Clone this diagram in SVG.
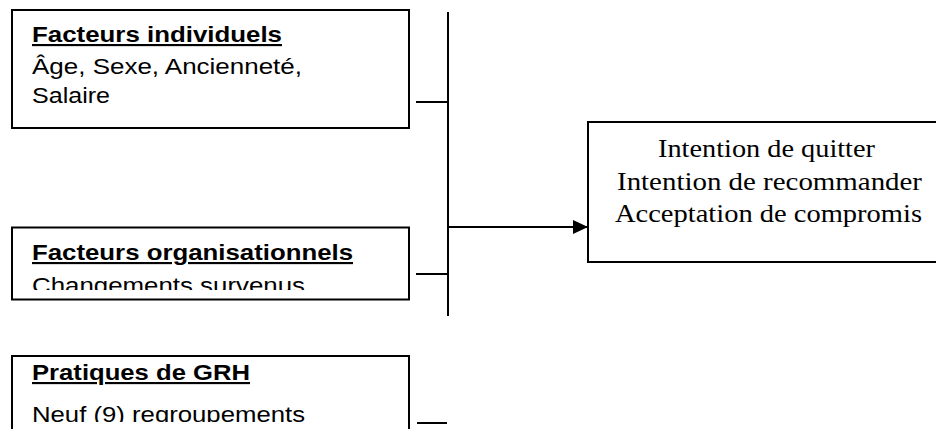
<svg xmlns="http://www.w3.org/2000/svg" width="936" height="429" viewBox="0 0 936 429">
<style>
.box{fill:#fff;stroke:#000;stroke-width:2}
.ln{stroke:#000;stroke-width:2;fill:none}
.t{font-family:"Liberation Sans",Arial,sans-serif;font-size:21.5px;fill:#000}
.h{font-weight:bold;text-decoration:underline;text-decoration-thickness:2px}
.s{font-family:"Liberation Serif","Times New Roman",serif;font-size:24.5px;fill:#000}
</style>
<defs>
<marker id="ah" markerWidth="15" markerHeight="14" refX="15" refY="7" orient="auto" markerUnits="userSpaceOnUse">
<path d="M0,0 L15,7 L0,14 Z" fill="#000"/>
</marker>
<clipPath id="c2"><rect x="12" y="228" width="397" height="62"/></clipPath>
<clipPath id="c3"><rect x="12" y="357" width="397" height="65"/></clipPath>
</defs>
<g id="connectors">
<line class="ln" x1="448" y1="12" x2="448" y2="316"/>
<line class="ln" x1="416" y1="102" x2="448" y2="102"/>
<line class="ln" x1="416" y1="274" x2="448" y2="274"/>
<line class="ln" x1="417" y1="423" x2="447" y2="423"/>
<line class="ln" x1="448" y1="227" x2="588" y2="227" marker-end="url(#ah)"/>
</g>
<g id="n1">
<rect class="box" x="12" y="10" width="397" height="118"/>
<text class="t h" x="32" y="42" textLength="250" lengthAdjust="spacingAndGlyphs">Facteurs individuels</text>
<text class="t" x="32" y="74" textLength="270" lengthAdjust="spacingAndGlyphs">Âge, Sexe, Ancienneté,</text>
<text class="t" x="32" y="103" textLength="78" lengthAdjust="spacingAndGlyphs">Salaire</text>
</g>
<g id="n2">
<rect class="box" x="12" y="227.5" width="397" height="72"/>
<g clip-path="url(#c2)">
<text class="t h" x="32" y="260" textLength="321" lengthAdjust="spacingAndGlyphs">Facteurs organisationnels</text>
<text class="t" x="32" y="293" textLength="273" lengthAdjust="spacingAndGlyphs">Changements survenus</text>
</g>
</g>
<g id="n3">
<rect class="box" x="12" y="356" width="397" height="90"/>
<g clip-path="url(#c3)">
<text class="t h" x="32" y="380" textLength="218" lengthAdjust="spacingAndGlyphs">Pratiques de GRH</text>
<text class="t" x="32" y="422" textLength="273" lengthAdjust="spacingAndGlyphs">Neuf (9) regroupements</text>
</g>
</g>
<g id="n4">
<rect class="box" x="588" y="122" width="360" height="140"/>
<text class="s" x="658" y="157" textLength="217" lengthAdjust="spacingAndGlyphs">Intention de quitter</text>
<text class="s" x="617" y="190" textLength="305" lengthAdjust="spacingAndGlyphs">Intention de recommander</text>
<text class="s" x="615" y="222" textLength="307" lengthAdjust="spacingAndGlyphs">Acceptation de compromis</text>
</g>
</svg>
